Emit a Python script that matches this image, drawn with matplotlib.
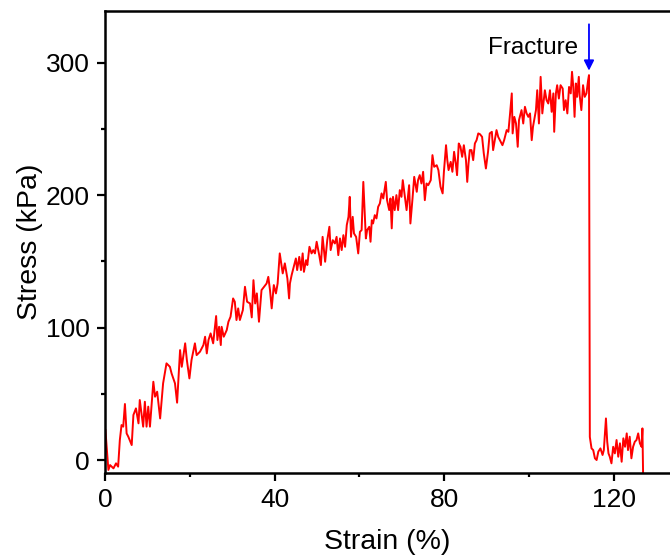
import matplotlib
matplotlib.use('Agg')
import matplotlib.pyplot as plt

# Courbe contrainte-deformation
strain = [0.1, 0.8, 1.2, 2.0, 2.6, 3.1, 3.5, 3.9, 4.3, 4.7, 5.1, 5.5, 6.3, 6.7, 7.3, 7.9,
          8.2, 8.6, 9.0, 9.4, 9.8, 10.2, 10.6, 11.4, 11.8, 12.3, 13.0, 13.7, 14.5, 15.3,
          15.7, 16.5, 17.0, 17.7, 18.1, 18.9, 19.3, 19.9, 20.4, 21.2, 21.6, 22.4, 23.2,
          23.6, 24.0, 24.4, 24.9, 25.5, 26.2, 26.5, 26.9, 27.3, 27.5, 28.0, 28.7, 29.1,
          29.6, 30.2, 30.6, 31.0, 31.4, 31.8, 32.5, 33.0, 33.5, 34.2, 34.6, 35.0, 35.4,
          35.8, 36.3, 36.9, 37.5, 38.1, 38.5, 38.9, 39.3, 39.8, 40.3, 40.7, 41.2, 41.9,
          42.4, 43.0, 43.4, 43.6, 44.0, 44.5, 45.0, 45.3, 45.8, 46.2, 46.6, 46.9, 47.4,
          47.7, 48.2, 48.7, 49.1, 49.5, 49.9, 50.5, 50.9, 51.3, 51.9, 52.4, 52.9, 53.2,
          53.7, 54.2, 54.6, 55.0, 55.4, 55.8, 56.2, 56.6, 57.0, 57.4, 57.7, 58.0, 58.4,
          58.7, 59.2, 59.7, 60.1, 60.5, 60.9, 61.3, 61.5, 61.8, 62.3, 62.6, 62.9, 63.2,
          63.6, 64.0, 64.4, 64.8, 65.2, 65.6, 66.2, 66.5, 67.0, 67.3, 67.6, 67.9, 68.3,
          68.7, 69.1, 69.5, 69.9, 70.2, 70.7, 71.1, 71.7, 72.0, 72.5, 72.9, 73.5, 73.8,
          74.2, 74.6, 75.0, 75.4, 75.8, 76.2, 76.8, 77.2, 77.6, 78.2, 78.6, 79.1, 79.6,
          79.9, 80.4, 80.7, 81.0, 81.5, 81.9, 82.3, 82.7, 83.0, 83.4, 83.8, 84.2, 84.6,
          85.1, 85.4, 85.7, 86.0, 86.4, 86.8, 87.2, 87.6, 88.0, 88.4, 88.9, 89.3, 89.8,
          90.3, 90.7, 91.2, 91.5, 91.9, 92.3, 92.7, 93.1, 93.7, 94.1, 94.7, 95.1, 95.5,
          95.9, 96.1, 96.5, 96.9, 97.3, 97.6, 98.2, 98.6, 99.0, 99.4, 99.8, 100.2, 100.6,
          100.9, 101.6, 101.9, 102.3, 102.7, 103.1, 103.7, 104.1, 104.5, 104.9, 105.3,
          105.7, 105.9, 106.3, 106.6, 107.0, 107.4, 107.9, 108.2, 108.6, 109.0, 109.4,
          109.8, 110.1, 110.4, 110.7, 111.0, 111.3, 111.7, 111.9, 112.3, 112.7, 113.1,
          113.5, 113.9, 114.1, 114.3, 114.7, 115.1, 115.5, 115.9, 116.3, 116.8, 117.3,
          117.6, 118.1, 118.4, 118.7, 119.0, 119.4, 119.8, 120.2, 120.6, 121.0, 121.4,
          121.8, 122.2, 122.6, 123.0, 123.3, 123.7, 124.1, 124.5, 124.9, 125.3, 125.7,
          126.1, 126.5, 126.7, 126.9]
stress = [22.6, -7.5, -3.8, -6.3, -2.5, -5.0, 15.1, 26.4, 25.2, 42.3, 20.1, 17.6, 11.3,
          34.0, 39.0, 27.7, 45.3, 35.2, 25.2, 44.0, 25.2, 40.3, 25.2, 59.1, 47.8, 51.6,
          31.4, 57.9, 73.0, 70.4, 65.4, 57.9, 43.3, 83.0, 70.4, 88.1, 75.5, 61.6, 75.5,
          88.1, 79.2, 81.8, 86.8, 93.1, 80.5, 90.6, 95.6, 88.1, 108.7, 90.6, 100.6, 86.8,
          100.6, 93.1, 98.1, 104.4, 108.2, 122.0, 119.5, 105.7, 114.5, 105.7, 113.2, 130.8,
          119.5, 118.2, 107.7, 135.8, 118.2, 125.8, 104.4, 128.3, 130.8, 133.3, 138.3,
          128.3, 114.5, 132.1, 125.8, 133.3, 156.0, 140.9, 148.5, 137.1, 122.0, 133.3,
          139.6, 145.9, 152.2, 143.4, 153.4, 143.4, 156.0, 142.1, 150.9, 147.2, 161.0,
          156.0, 158.5, 156.0, 164.8, 154.7, 147.2, 168.5, 149.7, 166.0, 176.1, 158.5,
          166.0, 163.5, 168.5, 154.7, 167.3, 158.5, 169.8, 161.0, 177.4, 183.6, 198.7,
          168.5, 183.6, 171.1, 168.5, 156.0, 172.3, 173.6, 210.0, 181.1, 167.3, 173.6,
          176.1, 164.8, 181.1, 178.6, 184.9, 182.4, 191.2, 193.7, 201.3, 197.5, 210.0,
          196.2, 188.7, 197.5, 174.9, 198.7, 188.7, 200.0, 188.7, 203.8, 198.7, 211.3,
          198.7, 188.7, 207.5, 178.6, 197.5, 213.8, 202.5, 211.3, 215.1, 208.8, 217.6,
          196.2, 208.8, 207.5, 211.3, 230.2, 221.4, 222.6, 218.9, 206.3, 201.3, 217.6,
          237.7, 226.4, 218.9, 225.1, 217.6, 232.7, 223.9, 215.1, 239.0, 236.5, 228.9,
          237.7, 226.4, 210.0, 223.9, 234.0, 234.0, 226.4, 239.0, 241.5, 246.6, 246.0,
          244.0, 231.5, 220.1, 232.7, 246.6, 247.8, 234.0, 241.5, 249.1, 244.0, 241.5,
          237.7, 241.5, 249.1, 247.8, 261.7, 276.8, 246.6, 259.1, 254.1, 236.5, 256.6,
          264.2, 254.1, 266.7, 261.7, 259.1, 261.7, 241.5, 251.6, 264.2, 279.2, 254.1,
          289.3, 261.7, 279.2, 271.7, 269.2, 279.2, 262.9, 276.8, 247.8, 276.8, 283.0,
          272.9, 283.0, 280.5, 264.2, 271.7, 261.7, 281.7, 276.8, 293.1, 281.7, 259.1,
          284.3, 274.2, 289.3, 275.5, 264.2, 283.0, 274.2, 276.8, 286.8, 290.6, 17.4,
          8.8, 7.5, 1.3, 0.0, 6.3, 8.8, 3.8, 7.5, 31.4, 13.8, 5.0, 2.5, -2.5, 10.0, 5.0,
          15.1, 2.5, 12.6, -1.3, 16.4, 10.0, 20.1, 7.5, 17.6, 1.3, 10.0, 13.8, 15.1, 20.1,
          12.6, 10.0, 23.9, -20.0]

fracture_strain = 114.1
x_ticks = [0, 40, 80, 120]
y_ticks = [0, 100, 200, 300]

plt.rcParams['font.family'] = ['Liberation Sans', 'DejaVu Sans']

fig = plt.figure(figsize=(6.7, 5.57), dpi=100)
ax = fig.add_axes([0.1567, 0.1508, 0.8433, 0.8294])

ax.plot(strain, stress, color='red', lw=1.4)

# Fleche "Fracture"
ax.annotate('', xy=(fracture_strain, 294), xytext=(fracture_strain, 329),
            arrowprops=dict(arrowstyle='-|>', color='blue', lw=1.3,
                            mutation_scale=15, shrinkA=0, shrinkB=0))
ax.text(fracture_strain - 2.6, 311, 'Fracture', fontsize=17.5, ha='right', va='center')

ax.set_xlim(0, 133.2)
ax.set_ylim(-9.8, 339)
ax.set_xticks(x_ticks)
ax.set_yticks(y_ticks)
ax.set_xticks([20, 60, 100], minor=True)
ax.set_yticks([50, 150, 250], minor=True)
ax.tick_params(which='major', direction='out', length=6, width=1.6, labelsize=19, pad=5)
ax.tick_params(which='minor', direction='out', length=3, width=1.6)

for side in ['left', 'bottom', 'top']:
    ax.spines[side].set_linewidth(1.8)
ax.spines['right'].set_visible(False)

ax.set_xlabel('Strain (%)', fontsize=20.5, labelpad=12)
ax.set_ylabel('Stress (kPa)', fontsize=20.5, labelpad=2)

plt.savefig('out.png', dpi=100)
